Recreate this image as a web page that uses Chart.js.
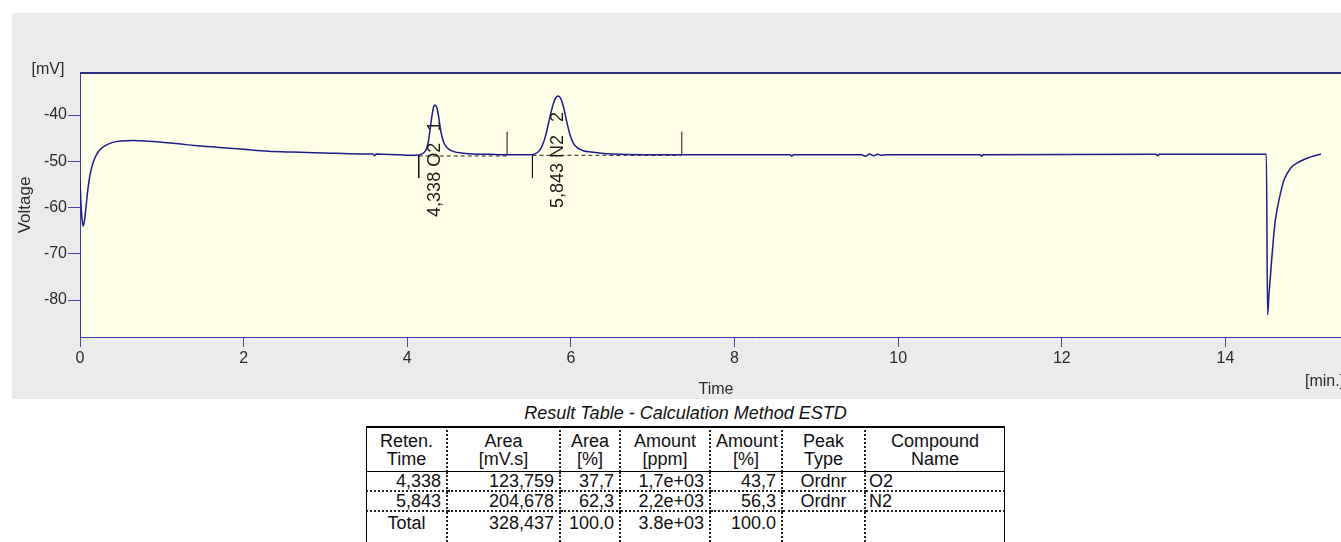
<!DOCTYPE html>
<html>
<head>
<meta charset="utf-8">
<title>Chromatogram - Result Table</title>
<script src="https://cdn.jsdelivr.net/npm/chart.js@4.4.1/dist/chart.umd.min.js"></script>
<style>
  html, body { margin: 0; padding: 0; background: #fff; width: 1341px; height: 542px; overflow: hidden; }
  body { position: relative; font-family: 'Liberation Sans', Arial, sans-serif; }
  #panel { position: absolute; left: 12px; top: 13px; width: 1418px; height: 386px; background: #ebebeb; }
  #chromatogram { display: block; }
  #tableTitle { position: absolute; left: 366px; top: 403px; width: 639px; text-align: center;
    font: italic 18px 'Liberation Sans', Arial, sans-serif; color: #111; line-height: 20px; }
  #results { position: absolute; left: 366px; top: 426px; width: 639px; table-layout: fixed;
    border-collapse: separate; border-spacing: 0; font: 18px 'Liberation Sans', Arial, sans-serif; color: #111; }
  #results th, #results td { box-sizing: border-box; padding: 0 5px; white-space: nowrap; overflow: hidden;
    border-right: 2px dotted #222; border-bottom: 2px dotted #222; height: 20px; line-height: 18px; }
  #results th { font-weight: normal; text-align: center; height: 46px;
    border-top: 2px solid #000; border-bottom: 1px solid #000; }
  #results tr > :first-child { border-left: 1px solid #000; }
  #results tr > :last-child { border-right: 1px solid #000; }
  #results tr.total td { height: 34px; vertical-align: top; padding-top: 2px; }
  #results td.r { text-align: right; }
  #results td.c { text-align: center; }
  #results td.l { text-align: left; padding-left: 3px; }
</style>
</head>
<body>
<div id="panel"><canvas id="chromatogram" width="1418" height="386"></canvas></div>
<div id="tableTitle">Result Table - Calculation Method ESTD</div>
<table id="results">
  <colgroup id="cols"></colgroup>
  <thead><tr id="headRow"></tr></thead>
  <tbody id="bodyRows"></tbody>
</table>
<script>
// ---- detector trace (time in min, signal in mV) ----
const timeMin = [
  0.000, 0.010, 0.025, 0.040, 0.055, 0.070, 0.090, 0.110, 0.130, 0.160,
  0.200, 0.250, 0.320, 0.400, 0.500, 0.650, 0.800, 1.000, 1.200, 1.400,
  1.700, 2.000, 2.300, 2.600, 3.000, 3.400, 3.580, 3.600, 3.620, 3.900,
  4.100, 4.180, 4.220, 4.240, 4.260, 4.280, 4.305, 4.325, 4.338, 4.360,
  4.385, 4.410, 4.440, 4.470, 4.510, 4.570, 4.660, 4.800, 5.000, 5.250,
  5.500, 5.560, 5.610, 5.650, 5.690, 5.730, 5.770, 5.810, 5.843, 5.875,
  5.910, 5.950, 5.990, 6.030, 6.080, 6.150, 6.250, 6.400, 6.600, 7.000,
  7.355, 8.000, 8.680, 8.700, 8.720, 9.550, 9.600, 9.650, 9.700, 9.750,
  9.800, 9.850, 11.000, 11.020, 11.040, 13.150, 13.170, 13.190, 14.500, 14.515,
  14.531, 14.558, 14.585, 14.610, 14.664, 14.717, 14.796, 14.903, 15.035, 15.167
];
const voltageMv = [
  -54.0, -58.5, -62.5, -64.0, -62.8, -60.5, -57.0, -54.3, -52.3, -50.3,
  -48.6, -47.4, -46.5, -45.9, -45.6, -45.5, -45.6, -45.9, -46.2, -46.6,
  -47.0, -47.4, -47.8, -48.0, -48.2, -48.4, -48.4, -48.8, -48.4, -48.6,
  -48.7, -48.4, -47.8, -47.0, -45.5, -43.0, -39.8, -38.1, -37.8, -38.3,
  -40.5, -43.5, -45.6, -46.7, -47.4, -47.9, -48.2, -48.4, -48.5, -48.6,
  -48.6, -48.4, -47.8, -46.6, -44.5, -41.5, -38.5, -36.4, -35.9, -36.4,
  -38.3, -41.5, -44.3, -46.1, -47.1, -47.7, -48.0, -48.3, -48.5, -48.6,
  -48.6, -48.6, -48.6, -48.9, -48.6, -48.6, -48.9, -48.4, -48.8, -48.5,
  -48.7, -48.6, -48.6, -48.9, -48.6, -48.5, -48.8, -48.5, -48.5, -83.2,
  -79.0, -72.8, -67.0, -62.7, -57.6, -54.0, -51.5, -50.1, -49.1, -48.4
];

// integration marks (start/end of peaks) and baselines
const markerTimes = [4.14, 5.22, 5.53, 7.355];
const markerFromMv = [-48.7, -48.7, -48.6, -48.6];
const markerToMv = [-53.6, -43.6, -53.6, -43.6];
const baselineStart = [4.14, 5.53];
const baselineEnd = [5.22, 7.355];
const baselineMv = [-48.85, -48.7];

// peak annotations
const peakTimes = [4.338, 5.843];
const peakApexMv = [-37.8, -35.9];
const peakTimeText = ['4,338', '5,843'];
const peakNumbers = ['1', '2'];

// axes
const xTicks = [0, 2, 4, 6, 8, 10, 12, 14, 16];
const yTicks = [-80, -70, -60, -50, -40];
const xRange = [0, 16.5];
const yRange = [-88, -30.9];

// result table
const headers = ['Reten.<br>Time', 'Area<br>[mV.s]', 'Area<br>[%]', 'Amount<br>[ppm]', 'Amount<br>[%]', 'Peak<br>Type', 'Compound<br>Name'];
const retTimeText = ['4,338', '5,843'];
const areaText = ['123,759', '204,678'];
const areaPctText = ['37,7', '62,3'];
const amountPpmText = ['1,7e+03', '2,2e+03'];
const amountPctText = ['43,7', '56,3'];
const peakTypeText = ['Ordnr', 'Ordnr'];
const compoundNames = ['O2', 'N2'];
const totalRow = ['Total', '328,437', '100.0', '3.8e+03', '100.0', '', ''];

const FONT = "'Liberation Sans', Arial, sans-serif";

// ---- table ----
const colWidths = [82, 113, 60, 90, 72, 83, 139];
const colAlign = ['r', 'r', 'r', 'r', 'r', 'c', 'l'];
document.getElementById('cols').innerHTML = colWidths.map(w => `<col style="width:${w}px">`).join('');
document.getElementById('headRow').innerHTML = headers.map(h => `<th>${h}</th>`).join('');
const bodyHtml = retTimeText.map((_, i) => {
  const cells = [retTimeText[i], areaText[i], areaPctText[i], amountPpmText[i], amountPctText[i], peakTypeText[i], compoundNames[i]];
  return '<tr>' + cells.map((c, j) => `<td class="${colAlign[j]}">${c}</td>`).join('') + '</tr>';
}).join('') + '<tr class="total">' + totalRow.map((c, j) => `<td class="${j === 0 ? 'c' : colAlign[j]}">${c}</td>`).join('') + '</tr>';
document.getElementById('bodyRows').innerHTML = bodyHtml;

// ---- chart ----
const datasets = [{
  data: timeMin.map((t, i) => ({ x: t, y: voltageMv[i] })),
  borderColor: '#1c1c8e',
  borderWidth: 1.5,
  pointRadius: 0,
  showLine: true,
  cubicInterpolationMode: 'monotone'
}];
markerTimes.forEach((t, i) => {
  datasets.push({
    data: [{ x: t, y: markerFromMv[i] }, { x: t, y: markerToMv[i] }],
    borderColor: '#111', borderWidth: 1, pointRadius: 0, showLine: true
  });
});
baselineStart.forEach((t, i) => {
  datasets.push({
    data: [{ x: t, y: baselineMv[i] }, { x: baselineEnd[i], y: baselineMv[i] }],
    borderColor: '#222', borderWidth: 1, borderDash: [4, 3], pointRadius: 0, showLine: true
  });
});

const plotFrame = {
  id: 'plotFrame',
  beforeDraw(chart) {
    const { ctx, chartArea: a } = chart;
    ctx.save();
    ctx.fillStyle = '#ffffe7';
    ctx.fillRect(a.left, a.top, a.right - a.left, a.bottom - a.top);
    ctx.restore();
  },
  afterDraw(chart) {
    const { ctx, chartArea: a, scales } = chart;
    ctx.save();
    // heavy top edge
    ctx.strokeStyle = '#2e2e80';
    ctx.lineWidth = 2;
    ctx.beginPath();
    ctx.moveTo(a.left, a.top);
    ctx.lineTo(a.right, a.top);
    ctx.stroke();

    // unit labels and x title
    ctx.fillStyle = '#2b2b2b';
    ctx.font = '16px ' + FONT;
    ctx.textBaseline = 'middle';
    ctx.textAlign = 'center';
    ctx.fillText('[mV]', 36, 57);
    ctx.fillText('Time', 704, 377);
    ctx.textAlign = 'left';
    ctx.fillText('[min.]', 1293, 369);

    // peak labels, rotated
    ctx.font = '18px ' + FONT;
    ctx.fillStyle = '#1a1a1a';
    peakTimes.forEach((t, i) => {
      const x = scales.x.getPixelForValue(t);
      const y = scales.y.getPixelForValue(peakApexMv[i]) + 112;
      ctx.save();
      ctx.translate(x, y);
      ctx.rotate(-Math.PI / 2);
      ctx.textAlign = 'left';
      ctx.textBaseline = 'middle';
      ctx.fillText(peakTimeText[i] + ' ' + compoundNames[i], 0, 0);
      ctx.fillText(peakNumbers[i], 86, 0);
      ctx.restore();
    });
    ctx.restore();
  }
};

new Chart(document.getElementById('chromatogram'), {
  type: 'scatter',
  data: { datasets },
  options: {
    responsive: false,
    animation: false,
    devicePixelRatio: 1,
    layout: { padding: { top: 60, left: 0, right: 0, bottom: 0 } },
    plugins: { legend: { display: false }, tooltip: { enabled: false } },
    scales: {
      x: {
        type: 'linear',
        min: xRange[0],
        max: xRange[1],
        afterBuildTicks: scale => { scale.ticks = xTicks.map(v => ({ value: v })); },
        afterFit: scale => { scale.height = 62; scale.paddingLeft = 0; scale.paddingRight = 0; },
        grid: { drawOnChartArea: false, drawTicks: true, tickLength: 10, color: '#4a4aa8' },
        border: { display: true, color: '#3c3ca6', width: 1 },
        ticks: { color: '#2b2b2b', padding: 2, autoSkip: false, maxRotation: 0, font: { family: FONT, size: 16 } }
      },
      y: {
        type: 'linear',
        min: yRange[0],
        max: yRange[1],
        afterBuildTicks: scale => { scale.ticks = yTicks.map(v => ({ value: v })); },
        afterFit: scale => { scale.width = 68; scale.paddingTop = 0; scale.paddingBottom = 0; },
        grid: { drawOnChartArea: false, drawTicks: true, tickLength: 12, color: '#4a4aa8' },
        border: { display: true, color: '#3a3ab4', width: 1 },
        ticks: { color: '#2b2b2b', padding: 1, font: { family: FONT, size: 16 } },
        title: { display: true, text: 'Voltage', color: '#2b2b2b', padding: { top: 3, bottom: 0 }, font: { family: FONT, size: 17 } }
      }
    }
  },
  plugins: [plotFrame]
});
</script>
</body>
</html>
